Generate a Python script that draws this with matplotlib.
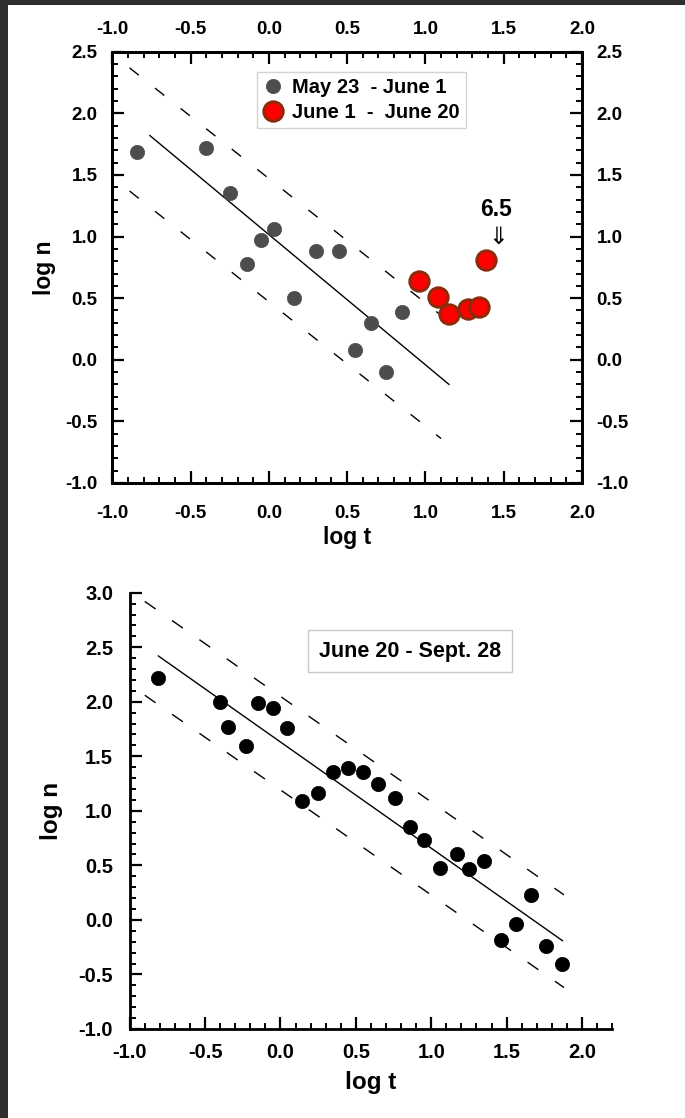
import matplotlib
matplotlib.use("Agg")
import matplotlib.pyplot as plt
from matplotlib.patches import Rectangle
from matplotlib.ticker import MultipleLocator, FormatStrFormatter

plt.rcParams["font.family"] = ["Liberation Sans", "DejaVu Sans"]
plt.rcParams["font.weight"] = "bold"
plt.rcParams["axes.unicode_minus"] = False
plt.rcParams["lines.scale_dashes"] = False

# ---- upper panel: May 23 - June 1 and June 1 - June 20 ----
early_logt = [-0.84, -0.40, -0.25, -0.14, -0.05, 0.03, 0.16, 0.30, 0.45, 0.55, 0.65, 0.75, 0.85]
early_logn = [1.69, 1.72, 1.35, 0.78, 0.97, 1.06, 0.50, 0.88, 0.88, 0.08, 0.30, -0.10, 0.39]
june_logt = [0.96, 1.08, 1.15, 1.27, 1.34, 1.39]
june_logn = [0.64, 0.51, 0.37, 0.41, 0.43, 0.81]

top_fit_t = [-0.76, 1.15]
top_fit_n = [1.82, -0.20]
top_upper_t = [-0.89, 1.10]
top_upper_n = [2.37, 0.36]
top_lower_t = [-0.89, 1.10]
top_lower_n = [1.37, -0.64]

# ---- lower panel: June 20 - Sept. 28 ----
late_logt = [-0.81, -0.40, -0.35, -0.23, -0.15, -0.05, 0.04, 0.14, 0.25, 0.35, 0.45,
             0.55, 0.65, 0.76, 0.86, 0.95, 1.06, 1.17, 1.25, 1.35, 1.46, 1.56, 1.66,
             1.76, 1.87]
late_logn = [2.22, 2.00, 1.77, 1.59, 1.99, 1.94, 1.76, 1.09, 1.16, 1.36, 1.39,
             1.36, 1.25, 1.12, 0.85, 0.73, 0.48, 0.60, 0.47, 0.54, -0.18, -0.04, 0.23,
             -0.24, -0.40]

bot_fit_t = [-0.81, 1.87]
bot_fit_n = [2.42, -0.19]
bot_upper_t = [-0.90, 1.88]
bot_upper_n = [2.92, 0.23]
bot_lower_t = [-0.90, 1.88]
bot_lower_n = [2.06, -0.62]

W, H = 685, 1118
fig = plt.figure(figsize=(W / 100, H / 100), dpi=100)
fig.patch.set_facecolor("white")

# dark frame strips along the top and left edges
fig.add_artist(Rectangle((0, 1 - 5 / H), 1, 5 / H, transform=fig.transFigure,
                         facecolor="#2e2e2e", edgecolor="none", zorder=-1))
fig.add_artist(Rectangle((0, 0), 8 / W, 1, transform=fig.transFigure,
                         facecolor="#2e2e2e", edgecolor="none", zorder=-1))


def style_axis(ax, spines_all):
    for side in ["left", "right", "top", "bottom"]:
        ax.spines[side].set_linewidth(2.0)
        if not spines_all and side in ("right", "top"):
            ax.spines[side].set_visible(False)
    ax.xaxis.set_major_locator(MultipleLocator(0.5))
    ax.xaxis.set_minor_locator(MultipleLocator(0.1))
    ax.yaxis.set_major_locator(MultipleLocator(0.5))
    ax.yaxis.set_minor_locator(MultipleLocator(0.1))
    ax.xaxis.set_major_formatter(FormatStrFormatter("%.1f"))
    ax.yaxis.set_major_formatter(FormatStrFormatter("%.1f"))
    ax.tick_params(which="major", direction="in", length=8.6, width=1.6)
    ax.tick_params(which="minor", direction="in", length=4.3, width=1.4)


# upper panel
ax1 = fig.add_axes([112.3 / W, 1 - 482.9 / H, 469.7 / W, 431.1 / H])
ax1.set_xlim(-1.0, 2.0)
ax1.set_ylim(-1.0, 2.5)
style_axis(ax1, True)
ax1.tick_params(which="both", top=False, right=True)
ax1.tick_params(axis="x", which="major", labelsize=13.5, pad=16)
ax1.tick_params(axis="y", which="major", labelright=True, labelsize=13.5, pad=10.5)

# top axis carries its own tick labels so they can sit at a different distance
ax1t = ax1.twiny()
ax1t.set_xlim(ax1.get_xlim())
ax1t.xaxis.set_major_locator(MultipleLocator(0.5))
ax1t.xaxis.set_minor_locator(MultipleLocator(0.1))
ax1t.xaxis.set_major_formatter(FormatStrFormatter("%.1f"))
ax1t.tick_params(which="major", direction="in", length=8.6, width=1.6, labelsize=13.5, pad=10)
ax1t.tick_params(which="minor", direction="in", length=4.3, width=1.4)
for side in ax1t.spines:
    ax1t.spines[side].set_linewidth(2.0)

ax1.plot(top_fit_t, top_fit_n, color="black", lw=1.0, zorder=2)
ax1.plot(top_upper_t, top_upper_n, color="black", lw=1.0, linestyle=(0, (8.5, 15)), zorder=2)
ax1.plot(top_lower_t, top_lower_n, color="black", lw=1.0, linestyle=(0, (8.5, 15)), zorder=2)
ax1.plot(early_logt, early_logn, linestyle="none", marker="o", markersize=10.3,
         markerfacecolor="#4d4d4d", markeredgecolor="#4d4d4d", markeredgewidth=0.5,
         label="May 23  - June 1", zorder=3)
ax1.plot(june_logt, june_logn, linestyle="none", marker="o", markersize=14,
         markerfacecolor="#ff0000", markeredgecolor="#8a2c0c", markeredgewidth=2.1,
         label="June 1  -  June 20", zorder=4)

ax1.text(1.45, 1.22, "6.5", ha="center", va="center", fontsize=16.5, fontweight="bold")
ax1.text(1.462, 0.995, "\u21d3", ha="center", va="center", fontsize=17,
         fontweight="normal", family=["DejaVu Sans"])

leg = ax1.legend(loc="upper left", bbox_to_anchor=(0.3074, 0.9538), borderaxespad=0,
                 frameon=True, fancybox=False, numpoints=1, handlelength=1.0,
                 handletextpad=0.45, borderpad=0.3, labelspacing=0.3,
                 prop={"weight": "bold", "size": 14.5})
leg.get_frame().set_edgecolor("#c8c8c8")
leg.get_frame().set_linewidth(1.0)

ax1.set_xlabel("log t", fontsize=16.5, fontweight="bold")
ax1.set_ylabel("log n", fontsize=16.5, fontweight="bold")
ax1.xaxis.label.set_va("center")
ax1.yaxis.label.set_va("center")
ax1.xaxis.set_label_coords(0.5, -(537.5 - 482.9) / 431.1)
ax1.yaxis.set_label_coords((44 - 112.3) / 469.7, 0.5)

# lower panel
ax2 = fig.add_axes([129.7 / W, 1 - 1029 / H, 482.5 / W, 436.3 / H])
ax2.set_xlim(-1.0, 2.2)
ax2.set_ylim(-1.0, 3.0)
style_axis(ax2, False)
ax2.tick_params(axis="both", which="major", labelsize=14.5)
ax2.tick_params(axis="x", which="major", pad=10)
ax2.tick_params(axis="y", which="major", pad=12)

ax2.plot(bot_fit_t, bot_fit_n, color="black", lw=1.0, zorder=2)
ax2.plot(bot_upper_t, bot_upper_n, color="black", lw=1.0, linestyle=(0, (9.5, 14.5)), zorder=2)
ax2.plot(bot_lower_t, bot_lower_n, color="black", lw=1.0, linestyle=(0, (9.5, 14.5)), zorder=2)
ax2.plot(late_logt, late_logn, linestyle="none", marker="o", markersize=10.3,
         markerfacecolor="black", markeredgecolor="black", markeredgewidth=0.5, zorder=3)

ax2.text(0.581, 0.866, "June 20 - Sept. 28", transform=ax2.transAxes, ha="center",
         va="center", fontsize=15.5, fontweight="bold",
         bbox=dict(boxstyle="square,pad=0.5", facecolor="white", edgecolor="#c8c8c8",
                   linewidth=1.0))

ax2.set_xlabel("log t", fontsize=17.5, fontweight="bold")
ax2.set_ylabel("log n", fontsize=17.5, fontweight="bold")
ax2.xaxis.label.set_va("center")
ax2.yaxis.label.set_va("center")
ax2.xaxis.set_label_coords(0.5, -(1083 - 1029) / 436.3)
ax2.yaxis.set_label_coords((51.5 - 129.7) / 482.5, 0.5)

fig.savefig("out.png", dpi=100, facecolor=fig.get_facecolor())
